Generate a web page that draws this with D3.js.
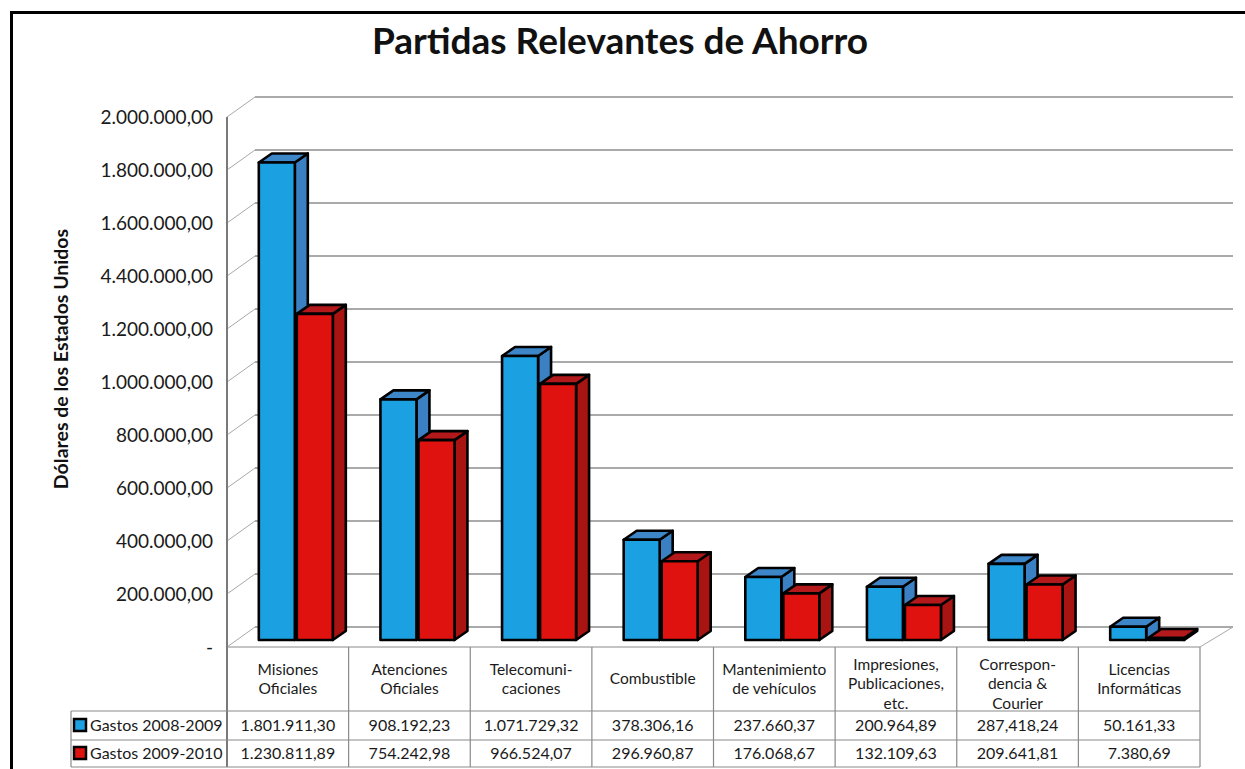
<!DOCTYPE html>
<html>
<head>
<meta charset="utf-8">
<script src="https://cdn.jsdelivr.net/npm/d3@7"></script>
<style>
  html, body { margin: 0; padding: 0; background: #fff; }
  svg { display: block; font-family: Lato, "Open Sans", sans-serif; }
</style>
</head>
<body>
<svg id="chart" width="1245" height="769"></svg>
<script>
// ---------- data ----------
const title = "Partidas Relevantes de Ahorro";
const yTitle = "Dólares de los Estados Unidos";
const categories = ["Misiones Oficiales", "Atenciones Oficiales", "Telecomunicaciones", "Combustible",
  "Mantenimiento de vehículos", "Impresiones, Publicaciones, etc.", "Correspondencia & Courier", "Licencias Informáticas"];
const categoryLines = [["Misiones", "Oficiales"], ["Atenciones", "Oficiales"], ["Telecomuni-", "caciones"], ["Combustible"],
  ["Mantenimiento", "de vehículos"], ["Impresiones,", "Publicaciones,", "etc."], ["Correspon-", "dencia &", "Courier"],
  ["Licencias", "Informáticas"]];
const seriesNames = ["Gastos 2008-2009", "Gastos 2009-2010"];
const gastos2008 = [1801911.30, 908192.23, 1071729.32, 378306.16, 237660.37, 200964.89, 287418.24, 50161.33];
const gastos2009 = [1230811.89, 754242.98, 966524.07, 296960.87, 176068.67, 132109.63, 209641.81, 7380.69];
const gastos2008Labels = ["1.801.911,30", "908.192,23", "1.071.729,32", "378.306,16", "237.660,37", "200.964,89", "287,418,24", "50.161,33"];
const gastos2009Labels = ["1.230.811,89", "754.242,98", "966.524,07", "296.960,87", "176.068,67", "132.109,63", "209.641,81", "7.380,69"];
const tickValues = [0, 200000, 400000, 600000, 800000, 1000000, 1200000, 1400000, 1600000, 1800000, 2000000];
const tickLabels = ["-", "200.000,00", "400.000,00", "600.000,00", "800.000,00", "1.000.000,00", "1.200.000,00",
  "4.400.000,00", "1.600.000,00", "1.800.000,00", "2.000.000,00"];

// ---------- layout ----------
const svg = d3.select("#chart");
const frontLeft = 227, frontRight = 1200;
const depthX = 28, depthY = -20;          // wall depth
const barShiftX = 8, barShiftY = -7;      // bars sit slightly inside
const barDX = 13, barDY = -9;             // bar depth
const barW = 36, barGap = 2;
const tableTop = 647, headerBottom = 711, row1Bottom = 740, row2Bottom = 767, legendLeft = 71;

const colors = {
  front: ["#1ba1e2", "#e0120f"],
  side: ["#3a80c2", "#a81412"],
  top: ["#3d86c8", "#b3191a"]
};

const y = d3.scaleLinear().domain([0, 2000000]).range([647, 117]);
const x = d3.scaleBand().domain(categories).range([frontLeft, frontRight]).padding(0);

// outer frame
svg.append("rect").attr("x", 11.5).attr("y", 12.5).attr("width", 1300).attr("height", 800)
  .attr("fill", "none").attr("stroke", "#000").attr("stroke-width", 3);

// title
svg.append("text").attr("x", 620).attr("y", 54).attr("text-anchor", "middle")
  .attr("font-size", 37).attr("font-weight", "bold").attr("fill", "#111").text(title);

// y title
svg.append("text").attr("transform", "translate(68,359) rotate(-90)").attr("text-anchor", "middle")
  .attr("font-size", 19.5).attr("font-weight", "bold").attr("fill", "#111").text(yTitle);

// back wall gridlines + diagonals
const grid = svg.append("g");
grid.selectAll("line.back").data(tickValues).join("line").attr("class", "back")
  .attr("x1", frontLeft + depthX).attr("x2", frontRight + 33)
  .attr("y1", d => y(d) + depthY).attr("y2", d => y(d) + depthY)
  .attr("stroke", "#8e8e8e").attr("stroke-width", 1.4);
grid.selectAll("line.diag").data(tickValues).join("line").attr("class", "diag")
  .attr("x1", frontLeft).attr("x2", frontLeft + depthX)
  .attr("y1", d => y(d)).attr("y2", d => y(d) + depthY)
  .attr("stroke", "#a8a8a8").attr("stroke-width", 1);
// floor right edge
svg.append("line").attr("x1", frontRight).attr("y1", y(0)).attr("x2", frontRight + 33).attr("y2", y(0) + depthY)
  .attr("stroke", "#a8a8a8").attr("stroke-width", 1);

// y axis labels
const yAxis = d3.axisLeft(y).tickValues(tickValues).tickFormat((d, i) => tickLabels[i]).tickSize(0).tickPadding(14);
const ax = svg.append("g").attr("transform", `translate(${frontLeft},0)`).call(yAxis);
ax.select(".domain").remove();
ax.selectAll("text").attr("font-size", 19).attr("fill", "#1a1a1a").attr("font-family", "Lato, sans-serif");

// bars
const series = [gastos2008, gastos2009];
const barsG = svg.append("g");
series.forEach((vals, s) => {
  categories.forEach((c, i) => {
    const v = vals[i];
    const x0 = x(c) + x.bandwidth() / 2 - (barW * 2 + barGap) / 2 + s * (barW + barGap) + barShiftX;
    const yT = y(v) + barShiftY;
    const yB = y(0) + barShiftY;
    const g = barsG.append("g").attr("stroke", "#000").attr("stroke-width", 2.6).attr("stroke-linejoin", "round");
    g.append("polygon").attr("points", [[x0 + barW, yT], [x0 + barW + barDX, yT + barDY], [x0 + barW + barDX, yB + barDY], [x0 + barW, yB]].join(" "))
      .attr("fill", colors.side[s]);
    g.append("polygon").attr("points", [[x0, yT], [x0 + barDX, yT + barDY], [x0 + barW + barDX, yT + barDY], [x0 + barW, yT]].join(" "))
      .attr("fill", colors.top[s]);
    g.append("rect").attr("x", x0).attr("y", yT).attr("width", barW).attr("height", yB - yT).attr("fill", colors.front[s]);
  });
});

// vertical axis line
svg.append("line").attr("x1", frontLeft).attr("x2", frontLeft).attr("y1", y(2000000)).attr("y2", row2Bottom)
  .attr("stroke", "#7a7a7a").attr("stroke-width", 2);

// data table
const tbl = svg.append("g").attr("stroke", "#8a8a8a").attr("stroke-width", 1.2);
tbl.append("line").attr("x1", frontLeft).attr("x2", frontRight).attr("y1", tableTop).attr("y2", tableTop);
[headerBottom, row1Bottom, row2Bottom].forEach(yy => {
  tbl.append("line").attr("x1", legendLeft).attr("x2", frontRight).attr("y1", yy).attr("y2", yy);
});
tbl.append("line").attr("x1", legendLeft).attr("x2", legendLeft).attr("y1", headerBottom).attr("y2", row2Bottom);
categories.forEach(c => {
  tbl.append("line").attr("x1", x(c) + x.bandwidth()).attr("x2", x(c) + x.bandwidth()).attr("y1", tableTop).attr("y2", row2Bottom);
});

// header labels
categories.forEach((c, i) => {
  const lines = categoryLines[i];
  const lh = 19.5;
  const center = lines.length === 3 ? 684 : 679;
  const t = svg.append("text").attr("text-anchor", "middle").attr("font-size", 15.5).attr("fill", "#1a1a1a");
  lines.forEach((ln, k) => {
    t.append("tspan").attr("x", x(c) + x.bandwidth() / 2)
      .attr("y", center - (lines.length - 1) * lh / 2 + k * lh).attr("dy", "0.35em").text(ln);
  });
});

// value rows
const rowLabels = [gastos2008Labels, gastos2009Labels];
const rowCenters = [(headerBottom + row1Bottom) / 2, (row1Bottom + row2Bottom) / 2];
rowLabels.forEach((labels, r) => {
  svg.append("g").selectAll("text").data(labels).join("text")
    .attr("x", (d, i) => x(categories[i]) + x.bandwidth() / 2)
    .attr("y", rowCenters[r]).attr("dy", "0.35em").attr("text-anchor", "middle")
    .attr("font-size", 16).attr("fill", "#1a1a1a").text(d => d);
  svg.append("rect").attr("x", 74).attr("y", rowCenters[r] - 6.5).attr("width", 12).attr("height", 12)
    .attr("fill", colors.front[r]).attr("stroke", "#000").attr("stroke-width", 2.5);
  svg.append("text").attr("x", 90).attr("y", rowCenters[r]).attr("dy", "0.35em")
    .attr("font-size", 16).attr("fill", "#1a1a1a").text(seriesNames[r]);
});
</script>
</body>
</html>
